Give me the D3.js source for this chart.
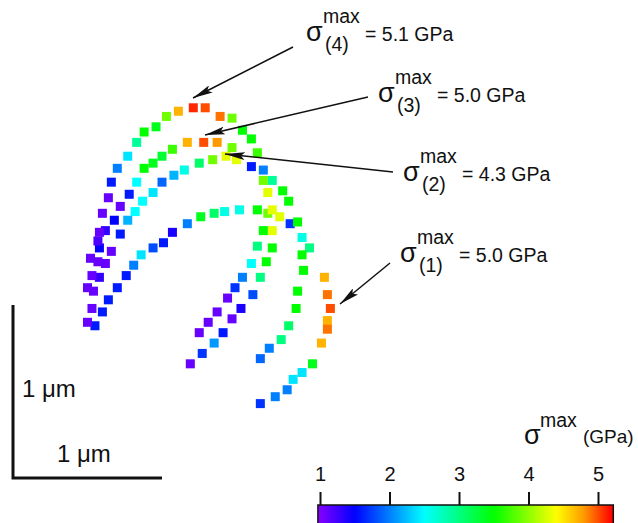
<!DOCTYPE html>
<html>
<head>
<meta charset="utf-8">
<script src="https://d3js.org/d3.v7.min.js"></script>
<style>
  html, body { margin: 0; padding: 0; background: #fff; overflow: hidden; }
  text { font-family: "Liberation Sans", Arial, sans-serif; fill: #111; }
</style>
</head>
<body>
<script>
// positions in µm (x right, y up from the scale bar corner), stress in GPa
const arc1 = [[0.55,0.88,1.6],[0.60,0.96,1.6],[0.64,1.03,1.6],[0.70,1.10,1.6],[0.76,1.17,1.6],[0.81,1.23,2.0],
  [0.86,1.29,2.4],[0.94,1.33,1.8],[1.01,1.36,1.6],[1.07,1.42,1.4],[1.17,1.47,2.0],[1.26,1.51,3.4],[1.35,1.53,3.1],
  [1.42,1.54,2.6],[1.52,1.55,2.6],[1.64,1.55,3.5],[1.71,1.53,3.9],[1.79,1.51,4.3],[1.86,1.47,1.7],[1.94,1.39,2.6],
  [1.99,1.33,3.0],[2.09,1.16,4.7],[2.11,1.06,4.9],[2.13,0.98,5.0],[2.11,0.91,4.7],[2.11,0.86,4.9],[2.07,0.78,4.7],
  [2.01,0.66,3.4],[1.94,0.61,2.4],[1.88,0.57,2.4],[1.84,0.51,2.0],[1.76,0.47,2.0],[1.66,0.43,1.7]];
const arc2 = [[0.54,1.08,1.1],[0.58,1.16,1.3],[0.62,1.24,1.1],[0.66,1.31,1.1],[0.72,1.41,1.6],[0.77,1.49,2.2],
  [0.82,1.54,2.5],[0.87,1.60,2.5],[0.94,1.65,2.4],[1.00,1.71,1.9],[1.08,1.75,2.2],[1.15,1.78,2.6],[1.25,1.82,3.1],
  [1.34,1.84,3.9],[1.43,1.86,4.3],[1.50,1.84,4.3],[1.60,1.80,1.6],[1.68,1.78,2.0],[1.74,1.72,2.9],[1.81,1.66,3.5],
  [1.85,1.60,3.5],[1.91,1.48,3.5],[1.94,1.29,3.5],[1.95,1.20,3.5],[1.91,1.08,3.5],[1.90,0.98,3.5],[1.85,0.88,3.1],
  [1.80,0.80,3.0],[1.72,0.75,2.0],[1.66,0.69,1.9]];
const arc3 = [[0.57,1.25,1.1],[0.58,1.33,1.5],[0.62,1.43,1.3],[0.68,1.49,1.5],[0.72,1.57,1.1],[0.78,1.64,1.6],
  [0.83,1.71,2.5],[0.88,1.79,3.5],[0.94,1.82,3.4],[1.00,1.86,3.3],[1.07,1.90,3.7],[1.17,1.94,4.7],[1.28,1.94,5.0],
  [1.37,1.94,4.8],[1.47,1.91,3.9],[1.68,1.72,3.9],[1.71,1.65,4.3],[1.74,1.55,4.3],[1.74,1.43,4.3],[1.74,1.33,3.5],
  [1.70,1.25,3.5],[1.66,1.16,3.0],[1.61,1.06,1.8],[1.53,0.98,1.4],[1.47,0.92,1.1],[1.41,0.84,1.6],[1.35,0.78,2.1],
  [1.27,0.72,1.7],[1.19,0.66,1.1]];
const arc4 = [[0.50,0.90,1.1],[0.53,0.98,1.1],[0.50,1.10,1.1],[0.53,1.17,1.1],[0.52,1.27,1.1],[0.57,1.37,1.2],
  [0.58,1.42,1.1],[0.60,1.53,1.1],[0.64,1.62,1.1],[0.66,1.71,1.6],[0.70,1.79,2.0],[0.77,1.86,2.4],[0.83,1.94,2.9],
  [0.88,2.00,3.5],[0.96,2.03,3.4],[1.03,2.09,3.9],[1.11,2.12,4.7],[1.21,2.14,5.1],[1.29,2.14,5.0],[1.39,2.09,4.9],
  [1.47,2.08,3.9],[1.54,2.01,3.5],[1.60,1.96,3.5],[1.64,1.88,3.7],[1.68,1.43,3.5],[1.64,1.34,3.0],[1.60,1.24,2.5],
  [1.54,1.16,2.0],[1.49,1.10,1.7],[1.44,1.04,1.1],[1.37,0.96,1.1],[1.31,0.90,1.1],[1.25,0.84,1.1]];

const arcNames = ["(1)", "(2)", "(3)", "(4)"];
const maxStress = ["5.0", "4.3", "5.0", "5.1"];
const barTicks = [1, 2, 3, 4, 5];
const barExtent = [0.97, 5.22];

const width = 638, height = 523;
const svg = d3.select("body").append("svg").attr("width", width).attr("height", height);

const x = d3.scaleLinear().domain([0, 1]).range([13, 162]);
const y = d3.scaleLinear().domain([0, 1]).range([478, 305]);
const color = d3.scaleLinear()
  .domain([1, 1.5, 2.5, 3.5, 4.4, 4.8, 5.2])
  .range(["#8000ff", "#0000ff", "#00ffff", "#00ff00", "#ffff00", "#ff9900", "#ff0000"]);

// points
const pts = [arc1, arc2, arc3, arc4].flat();
const sq = 9;
svg.append("g").selectAll("rect")
  .data(pts)
  .join("rect")
  .attr("x", d => x(d[0]) - sq / 2)
  .attr("y", d => y(d[1]) - sq / 2)
  .attr("width", sq)
  .attr("height", sq)
  .attr("fill", d => color(d[2]));

// scale bars
svg.append("path")
  .attr("d", `M${x(0)},${y(1)}V${y(0)}H${x(1)}`)
  .attr("fill", "none")
  .attr("stroke", "#111")
  .attr("stroke-width", 3);
svg.append("text").attr("x", 22).attr("y", 397).attr("font-size", 24).text("1 μm");
svg.append("text").attr("x", 57).attr("y", 462).attr("font-size", 24).text("1 μm");

// annotations
const defs = svg.append("defs");
defs.append("marker")
  .attr("id", "head")
  .attr("viewBox", "0 0 20 8")
  .attr("refX", 20).attr("refY", 4)
  .attr("markerUnits", "userSpaceOnUse")
  .attr("markerWidth", 20).attr("markerHeight", 8)
  .attr("orient", "auto")
  .append("path")
  .attr("d", "M0,0L20,4L0,8L4,4Z")
  .attr("fill", "#111");

const notes = [
  {i: 0, lx: 400, ly: 262, from: [390, 263], to: [340, 304]},
  {i: 1, lx: 403, ly: 181, from: [393, 172], to: [225, 154]},
  {i: 2, lx: 378, ly: 102, from: [368, 97], to: [205, 135]},
  {i: 3, lx: 306, ly: 41, from: [293, 47], to: [193, 98]}
];
notes.forEach(n => {
  svg.append("line")
    .attr("x1", n.from[0]).attr("y1", n.from[1])
    .attr("x2", n.to[0]).attr("y2", n.to[1])
    .attr("stroke", "#111").attr("stroke-width", 1.5)
    .attr("marker-end", "url(#head)");
  const g = svg.append("g").attr("transform", `translate(${n.lx},${n.ly})`);
  g.append("text").attr("font-size", 27).text("σ");
  g.append("text").attr("x", 17).attr("y", -18).attr("font-size", 19.5).text("max");
  g.append("text").attr("x", 19).attr("y", 10).attr("font-size", 19.5).text(arcNames[n.i]);
  g.append("text").attr("x", 59).attr("font-size", 19.5).text("= " + maxStress[n.i] + " GPa");
});

// colour bar
const cb = d3.scaleLinear().domain([1, 5]).range([320, 598]);
const grad = defs.append("linearGradient").attr("id", "jet");
d3.range(barExtent[0], barExtent[1] + 0.001, 0.05).forEach(v => {
  grad.append("stop")
    .attr("offset", (v - barExtent[0]) / (barExtent[1] - barExtent[0]))
    .attr("stop-color", color(v));
});
svg.append("rect")
  .attr("x", cb(barExtent[0])).attr("y", 505)
  .attr("width", cb(barExtent[1]) - cb(barExtent[0])).attr("height", 22)
  .attr("fill", "url(#jet)")
  .attr("stroke", "#111").attr("stroke-width", 1.5);

const axis = svg.append("g")
  .attr("transform", "translate(0,505)")
  .call(d3.axisTop(cb).tickValues(barTicks).tickFormat(d3.format("d")).tickSize(13).tickPadding(11));
axis.select(".domain").remove();
axis.selectAll(".tick line").attr("stroke", "#111").attr("stroke-width", 2);
axis.selectAll(".tick text")
  .attr("font-size", 20)
  .attr("font-family", "Liberation Sans, Arial, sans-serif")
  .attr("fill", "#111");

svg.append("text").attr("x", 524).attr("y", 444).attr("font-size", 27).text("σ");
svg.append("text").attr("x", 540).attr("y", 427).attr("font-size", 19.5).text("max");
svg.append("text").attr("x", 583).attr("y", 443).attr("font-size", 19).text("(GPa)");
</script>
</body>
</html>
